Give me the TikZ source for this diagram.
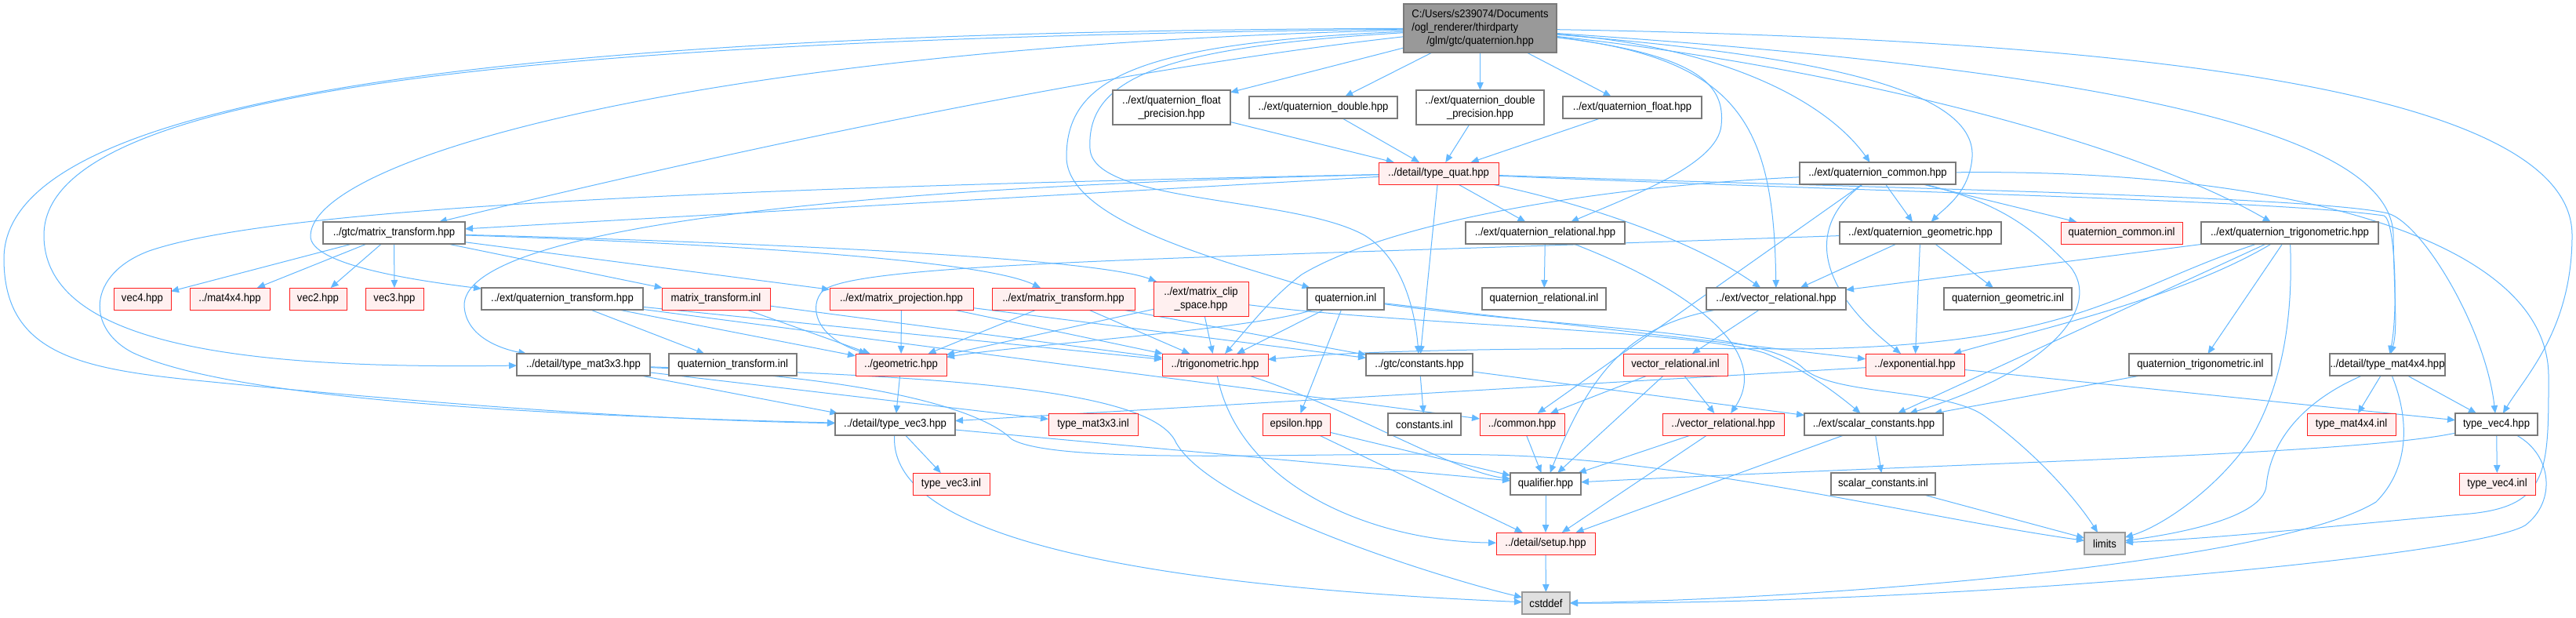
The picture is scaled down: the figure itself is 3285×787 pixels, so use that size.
\documentclass[tikz,border=0pt]{standalone}
\usepackage{fontspec}
\setmainfont{Liberation Sans}[FakeStretch=0.92]
\usetikzlibrary{arrows.meta}
\definecolor{edgeblue}{HTML}{63B8FF}
\definecolor{grayborder}{HTML}{7A7A7A}
\definecolor{redfill}{HTML}{FFF0F0}
\definecolor{redborder}{HTML}{FF2020}
\definecolor{rootfill}{HTML}{999999}
\definecolor{sysfill}{HTML}{E0E0E0}
\definecolor{sysborder}{HTML}{999999}
\pgfdeclarelayer{bg}
\pgfsetlayers{bg,main}
\tikzset{
  boxbase/.style={draw, inner sep=0pt, outer sep=0pt, minimum height=14pt, align=center, line width=0.55pt, text=black},
  wbox/.style={boxbase, draw=grayborder, fill=white},
  rbox/.style={boxbase, draw=redborder, fill=redfill, line width=0.5pt},
  rootbox/.style={boxbase, draw=grayborder, fill=rootfill},
  sysbox/.style={boxbase, draw=sysborder, fill=sysfill},
  lnk/.style={draw=edgeblue, line width=0.5pt, -{Triangle[length=5pt,width=4.2pt]}}
}
\begin{document}
\begin{tikzpicture}[x=0.5pt, y=-0.5pt, font=\fontsize{7.1}{8.5}\selectfont]
\useasboundingbox (0,0) rectangle (3285,787);
% ---------------- nodes ----------------
\node[rootbox, minimum width=97.5pt, minimum height=31pt] (root) at (1887.5,36)
  {\begin{tabular}{@{}c@{}}\begin{tabular}[b]{@{}l@{}}C:/Users/s239074/Documents\\/ogl\_renderer/thirdparty\end{tabular}\\/glm/gtc/quaternion.hpp\end{tabular}};
\node[wbox, minimum width=75pt, minimum height=22pt] (qfp) at (1494,137) {../ext/quaternion\_float\\\_precision.hpp};
\node[wbox, minimum width=94.5pt] (qd) at (1687.5,137) {../ext/quaternion\_double.hpp};
\node[wbox, minimum width=81.5pt, minimum height=22pt] (qdp) at (1887.5,137) {../ext/quaternion\_double\\\_precision.hpp};
\node[wbox, minimum width=88.5pt] (qf) at (2081.5,137) {../ext/quaternion\_float.hpp};
\node[rbox, minimum width=76.5pt] (tquat) at (1834.5,221) {../detail/type\_quat.hpp};
\node[wbox, minimum width=99.5pt] (qcommon) at (2394.5,221) {../ext/quaternion\_common.hpp};
\node[wbox, minimum width=90.5pt] (gmt) at (502.5,297) {../gtc/matrix\_transform.hpp};
\node[wbox, minimum width=101.5pt] (qrel) at (1970.5,297) {../ext/quaternion\_relational.hpp};
\node[wbox, minimum width=103pt] (qgeo) at (2449,297) {../ext/quaternion\_geometric.hpp};
\node[rbox, minimum width=77.5pt] (qcinl) at (2705.5,297) {quaternion\_common.inl};
\node[wbox, minimum width=113pt] (qtrig) at (2920,297) {../ext/quaternion\_trigonometric.hpp};
\node[rbox, minimum width=36.5pt] (vec4) at (181.5,381) {vec4.hpp};
\node[rbox, minimum width=51pt] (mat4x4) at (293,381) {../mat4x4.hpp};
\node[rbox, minimum width=36.5pt] (vec2) at (405.5,381) {vec2.hpp};
\node[rbox, minimum width=37pt] (vec3) at (503,381) {vec3.hpp};
\node[wbox, minimum width=103pt] (qtrans) at (717,381) {../ext/quaternion\_transform.hpp};
\node[rbox, minimum width=69pt] (mtinl) at (913,381) {matrix\_transform.inl};
\node[rbox, minimum width=91.5pt] (mproj) at (1149.5,381) {../ext/matrix\_projection.hpp};
\node[rbox, minimum width=91pt] (emt) at (1356,381) {../ext/matrix\_transform.hpp};
\node[rbox, minimum width=60.5pt, minimum height=22pt] (clip) at (1531.5,381) {../ext/matrix\_clip\\\_space.hpp};
\node[wbox, minimum width=49pt] (qinl) at (1716,381) {quaternion.inl};
\node[wbox, minimum width=79pt] (qrelinl) at (1969,381) {quaternion\_relational.inl};
\node[wbox, minimum width=89pt] (vrel) at (2265,381) {../ext/vector\_relational.hpp};
\node[wbox, minimum width=81.5pt] (qgeoinl) at (2560.5,381) {quaternion\_geometric.inl};
\node[wbox, minimum width=85pt] (tmat3) at (744,465) {../detail/type\_mat3x3.hpp};
\node[wbox, minimum width=81.5pt] (qtransinl) at (934.5,465) {quaternion\_transform.inl};
\node[rbox, minimum width=58pt] (geom) at (1149,465) {../geometric.hpp};
\node[rbox, minimum width=67.5pt] (trig) at (1549.5,465) {../trigonometric.hpp};
\node[wbox, minimum width=68pt] (gconst) at (1810,465) {../gtc/constants.hpp};
\node[rbox, minimum width=66.5pt] (vrelinl) at (2136.5,465) {vector\_relational.inl};
\node[rbox, minimum width=63pt] (exp) at (2442,465) {../exponential.hpp};
\node[wbox, minimum width=91pt] (qtriginl) at (2806,465) {quaternion\_trigonometric.inl};
\node[wbox, minimum width=73.5pt] (tmat4) at (3044.5,465) {../detail/type\_mat4x4.hpp};
\node[wbox, minimum width=76.5pt] (tvec3) at (1141.5,541) {../detail/type\_vec3.hpp};
\node[rbox, minimum width=57pt] (tmat3inl) at (1394,541) {type\_mat3x3.inl};
\node[rbox, minimum width=43pt] (eps) at (1653,541) {epsilon.hpp};
\node[wbox, minimum width=46.5pt] (constinl) at (1816.5,541) {constants.inl};
\node[rbox, minimum width=54pt] (common) at (1941,541) {../common.hpp};
\node[rbox, minimum width=77.5pt] (vrelh) at (2197.5,541) {../vector\_relational.hpp};
\node[wbox, minimum width=88.5pt] (scal) at (2389.5,541) {../ext/scalar\_constants.hpp};
\node[rbox, minimum width=56.5pt] (tmat4inl) at (2998.5,541) {type\_mat4x4.inl};
\node[wbox, minimum width=52.5pt] (tvec4) at (3183.5,541) {type\_vec4.hpp};
\node[rbox, minimum width=49pt] (tvec3inl) at (1213,617) {type\_vec3.inl};
\node[wbox, minimum width=45pt] (qual) at (1971,617) {qualifier.hpp};
\node[wbox, minimum width=66.5pt] (scalinl) at (2401.5,617) {scalar\_constants.inl};
\node[rbox, minimum width=48.5pt] (tvec4inl) at (3184.5,617) {type\_vec4.inl};
\node[rbox, minimum width=63pt] (setup) at (1971,693) {../detail/setup.hpp};
\node[sysbox, minimum width=26pt] (limits) at (2684,693) {limits};
\node[sysbox, minimum width=30.5pt] (cstddef) at (1971.5,769) {cstddef};
% ---------------- edges ----------------
\begin{pgfonlayer}{bg}
\fill[white] (0,0) rectangle (3285,787);
% root
\draw[lnk] (root) -- (qfp);
\draw[lnk] (root) -- (qd);
\draw[lnk] (root) -- (qdp);
\draw[lnk] (root) -- (qf);
\draw[lnk] (root) .. controls (1400,90) and (900,200) .. (gmt);
\draw[lnk] (root) .. controls (900,60) and (400,200) .. (396,300) .. controls (393,340) and (550,360) .. (qtrans);
\draw[lnk] (root) .. controls (700,50) and (56,110) .. (56,300) .. controls (56,450) and (350,470) .. (tmat3);
\draw[lnk] (root) .. controls (600,40) and (5,130) .. (5,330) .. controls (5,450) and (100,470) .. (250,485) .. controls (500,510) and (800,535) .. (tvec3);
\draw[lnk] (root) .. controls (1450,55) and (1360,100) .. (1360,200) .. controls (1360,280) and (1550,330) .. (qinl);
\draw[lnk] (root) .. controls (1480,60) and (1385,100) .. (1390,190) .. controls (1395,260) and (1650,250) .. (1740,300) .. controls (1790,330) and (1805,400) .. (gconst);
\draw[lnk] (root) .. controls (2170,70) and (2200,110) .. (2195,160) .. controls (2190,210) and (2080,250) .. (qrel);
\draw[lnk] (root) .. controls (2220,75) and (2262,160) .. (vrel);
\draw[lnk] (root) .. controls (2200,60) and (2330,130) .. (qcommon);
\draw[lnk] (root) .. controls (2300,70) and (2520,110) .. (2515,200) .. controls (2512,245) and (2480,265) .. (qgeo);
\draw[lnk] (root) .. controls (2300,80) and (2700,170) .. (qtrig);
\draw[lnk] (root) .. controls (2700,90) and (3050,170) .. (3052,300) .. controls (3053,380) and (3058,420) .. (tmat4);
\draw[lnk] (root) .. controls (2700,50) and (3280,110) .. (3280,300) .. controls (3280,420) and (3220,480) .. (tvec4);
% quaternion headers
\draw[lnk] (qfp) -- (tquat);
\draw[lnk] (qd) -- (tquat);
\draw[lnk] (qdp) -- (tquat);
\draw[lnk] (qf) -- (tquat);
% type_quat
\draw[lnk] (tquat) -- (gmt);
\draw[lnk] (tquat) .. controls (1000,240) and (590,300) .. (592,390) .. controls (594,430) and (640,445) .. (tmat3);
\draw[lnk] (tquat) .. controls (900,240) and (350,265) .. (190,320) .. controls (110,350) and (110,420) .. (170,450) .. controls (300,510) and (700,530) .. (tvec3);
\draw[lnk] (tquat) -- (qrel);
\draw[lnk] (tquat) -- (gconst);
\draw[lnk] (tquat) .. controls (2000,255) and (2150,300) .. (vrel);
\draw[lnk] (tquat) .. controls (2400,245) and (2900,255) .. (3040,275) .. controls (3055,280) and (3058,400) .. (tmat4);
\draw[lnk] (tquat) .. controls (2400,240) and (2950,250) .. (3045,272) .. controls (3090,285) and (3170,420) .. (tvec4);
% gtc/matrix_transform
\draw[lnk] (gmt) -- (vec4);
\draw[lnk] (gmt) -- (mat4x4);
\draw[lnk] (gmt) -- (vec2);
\draw[lnk] (gmt) -- (vec3);
\draw[lnk] (gmt) -- (mtinl);
\draw[lnk] (gmt) -- (mproj);
\draw[lnk] (gmt) .. controls (900,310) and (1250,330) .. (emt);
\draw[lnk] (gmt) .. controls (1000,310) and (1400,330) .. (clip);
% quaternion_transform
\draw[lnk] (qtrans) -- (qtransinl);
\draw[lnk] (qtrans) -- (geom);
\draw[lnk] (qtrans) -- (trig);
\draw[lnk] (qtrans) -- (common);
% matrix headers
\draw[lnk] (mproj) -- (geom);
\draw[lnk] (mproj) -- (trig);
\draw[lnk] (mproj) -- (gconst);
\draw[lnk] (emt) -- (geom);
\draw[lnk] (emt) -- (trig);
\draw[lnk] (emt) -- (gconst);
\draw[lnk] (clip) -- (geom);
\draw[lnk] (clip) -- (trig);
\draw[lnk] (clip) .. controls (1800,415) and (2150,420) .. (2250,450) .. controls (2300,470) and (2340,500) .. (scal);
\draw[lnk] (mtinl) -- (geom);
\draw[lnk] (mtinl) -- (trig);
% quaternion.inl
\draw[lnk] (qinl) -- (trig);
\draw[lnk] (qinl) .. controls (1600,420) and (1300,440) .. (geom);
\draw[lnk] (qinl) -- (eps);
\draw[lnk] (qinl) -- (exp);
\draw[lnk] (qinl) .. controls (2000,420) and (2250,420) .. (2300,470) .. controls (2340,505) and (2480,495) .. (2530,530) .. controls (2600,580) and (2650,640) .. (limits);
% quaternion_common
\draw[lnk] (qcommon) -- (qgeo);
\draw[lnk] (qcommon) -- (qcinl);
\draw[lnk] (qcommon) .. controls (2300,290) and (2320,370) .. (exp);
\draw[lnk] (qcommon) .. controls (2560,260) and (2600,300) .. (2640,340) .. controls (2680,390) and (2620,470) .. (scal);
\draw[lnk] (qcommon) .. controls (2000,240) and (1760,290) .. (1660,350) .. controls (1620,380) and (1590,420) .. (trig);
\draw[lnk] (qcommon) -- (common);
\draw[lnk] (qcommon) .. controls (2900,215) and (3250,300) .. (3250,480) .. controls (3250,600) and (3250,645) .. (3150,655) .. controls (3000,668) and (2850,685) .. (limits);
% quaternion_geometric
\draw[lnk] (qgeo) -- (vrel);
\draw[lnk] (qgeo) -- (exp);
\draw[lnk] (qgeo) -- (qgeoinl);
\draw[lnk] (qgeo) .. controls (1500,330) and (1100,335) .. (1050,370) .. controls (1030,390) and (1040,430) .. (geom);
% quaternion_trigonometric
\draw[lnk] (qtrig) -- (vrel);
\draw[lnk] (qtrig) .. controls (2780,380) and (2600,420) .. (exp);
\draw[lnk] (qtrig) -- (scal);
\draw[lnk] (qtrig) -- (qtriginl);
\draw[lnk] (qtrig) .. controls (2925,420) and (2905,500) .. (2870,560) .. controls (2830,620) and (2760,670) .. (limits);
\draw[lnk] (qtrig) .. controls (2700,370) and (2650,440) .. (2300,445) .. controls (2000,443) and (1750,445) .. (trig);
\draw[lnk] (qtriginl) -- (scal);
% quaternion_relational
\draw[lnk] (qrel) -- (qrelinl);
\draw[lnk] (qrel) .. controls (2160,370) and (2260,450) .. (vrelh);
% vector relational
\draw[lnk] (vrel) -- (vrelinl);
\draw[lnk] (vrel) .. controls (2080,415) and (2030,470) .. (qual);
\draw[lnk] (vrelinl) -- (vrelh);
\draw[lnk] (vrelinl) -- (common);
\draw[lnk] (vrelinl) -- (qual);
\draw[lnk] (vrelh) -- (qual);
\draw[lnk] (vrelh) -- (setup);
% core
\draw[lnk] (exp) -- (tvec3);
\draw[lnk] (exp) -- (tvec4);
\draw[lnk] (trig) .. controls (1720,520) and (1850,600) .. (qual);
\draw[lnk] (trig) .. controls (1580,620) and (1750,690) .. (setup);
\draw[lnk] (geom) -- (tvec3);
\draw[lnk] (common) -- (qual);
\draw[lnk] (gconst) -- (scal);
\draw[lnk] (gconst) -- (constinl);
\draw[lnk] (scal) -- (setup);
\draw[lnk] (scal) -- (scalinl);
\draw[lnk] (scalinl) -- (limits);
\draw[lnk] (eps) -- (qual);
\draw[lnk] (eps) -- (setup);
% matrices and vectors
\draw[lnk] (tmat3) -- (tvec3);
\draw[lnk] (tmat3) -- (tmat3inl);
\draw[lnk] (tmat3) .. controls (1100,480) and (1250,520) .. (1290,560) .. controls (1350,595) and (1700,575) .. (1900,580) .. controls (2150,585) and (2450,660) .. (limits);
\draw[lnk] (tmat3) .. controls (1200,480) and (1470,495) .. (1500,565) .. controls (1550,650) and (1850,740) .. (cstddef);
\draw[lnk] (tvec3) -- (qual);
\draw[lnk] (tvec3) -- (tvec3inl);
\draw[lnk] (tvec3) .. controls (1135,650) and (1300,740) .. (cstddef);
\draw[lnk] (tmat4) -- (tvec4);
\draw[lnk] (tmat4) -- (tmat4inl);
\draw[lnk] (tmat4) .. controls (2940,510) and (2895,560) .. (2890,620) .. controls (2885,660) and (2780,680) .. (limits);
\draw[lnk] (tmat4) .. controls (3075,540) and (3070,600) .. (3030,640) .. controls (2900,720) and (2300,765) .. (cstddef);
\draw[lnk] (tvec4) -- (tvec4inl);
\draw[lnk] (tvec4) .. controls (3000,580) and (2500,590) .. (qual);
\draw[lnk] (tvec4) .. controls (3255,580) and (3260,640) .. (3220,670) .. controls (3150,710) and (2500,770) .. (cstddef);
\draw[lnk] (qual) -- (setup);
\draw[lnk] (setup) -- (cstddef);
\end{pgfonlayer}
\end{tikzpicture}
\end{document}
